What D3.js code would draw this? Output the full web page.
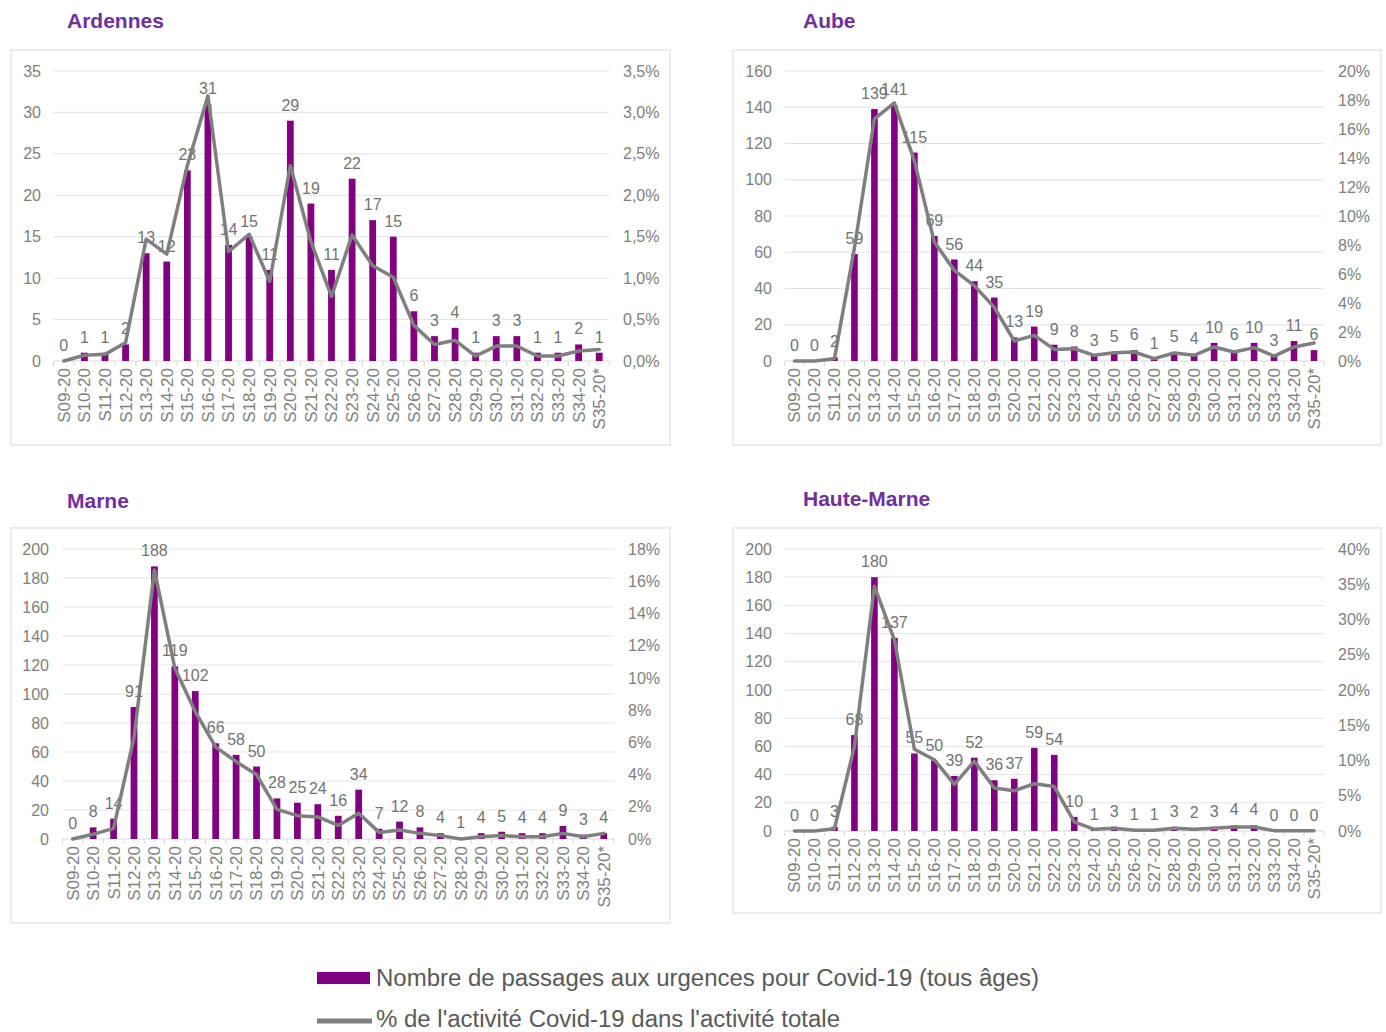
<!DOCTYPE html>
<meta charset="utf-8">
<style>
body { margin: 0; background: #fff; }
svg text { font-family: "Liberation Sans", Arial, sans-serif; }
.title { fill: #70309a; font-size: 21px; font-weight: bold; }
.tick text { fill: #808080; font-size: 16px; }
.xlab .tick text { font-size: 17px; }
.val { fill: #737373; font-size: 16px; text-anchor: middle; }
.legend { fill: #595959; font-size: 23px; }
</style>
<svg width="1386" height="1032"></svg>
<script src="https://cdn.jsdelivr.net/npm/d3@7"></script>
<script>

var weeks = ["S09-20","S10-20","S11-20","S12-20","S13-20","S14-20","S15-20","S16-20","S17-20",
  "S18-20","S19-20","S20-20","S21-20","S22-20","S23-20","S24-20","S25-20","S26-20","S27-20",
  "S28-20","S29-20","S30-20","S31-20","S32-20","S33-20","S34-20","S35-20*"];

// number of ER visits for Covid-19
var ardennesCount = [0,1,1,2,13,12,23,31,14,15,11,29,19,11,22,17,15,6,3,4,1,3,3,1,1,2,1];
var aubeCount = [0,0,2,59,139,141,115,69,56,44,35,13,19,9,8,3,5,6,1,5,4,10,6,10,3,11,6];
var marneCount = [0,8,14,91,188,119,102,66,58,50,28,25,24,16,34,7,12,8,4,1,4,5,4,4,9,3,4];
var hauteMarneCount = [0,0,3,68,180,137,55,50,39,52,36,37,59,54,10,1,3,1,1,3,2,3,4,4,0,0,0];

// % of Covid-19 activity in total activity
var ardennesPct = [0,0.07,0.08,0.22,1.47,1.29,2.36,3.2,1.32,1.53,0.96,2.36,1.44,0.78,1.52,1.15,1.01,0.43,0.2,0.25,0.06,0.18,0.18,0.06,0.06,0.12,0.14];
var aubePct = [0,0,0.16,7.8,16.7,17.8,13.8,8.2,6.25,5.2,3.7,1.38,1.77,0.8,0.85,0.39,0.57,0.62,0.16,0.55,0.39,0.97,0.62,0.92,0.34,0.97,1.24];
var marnePct = [0,0.29,0.66,6.3,16.7,10.6,7.9,5.7,4.8,4.0,1.84,1.45,1.37,0.84,1.6,0.41,0.56,0.35,0.21,0,0.14,0.21,0.14,0.14,0.35,0.14,0.35];
var hauteMarnePct = [0,0,0.33,12,34.7,27.1,11.6,10.1,6.6,9.9,6.1,5.7,6.7,6.3,1.3,0.24,0.38,0.1,0.1,0.38,0.24,0.38,0.57,0.57,0.05,0.05,0.05];

// axis ticks
var ardennesLeftTicks = [0,5,10,15,20,25,30,35];
var ardennesRightTicks = [0,0.5,1,1.5,2,2.5,3,3.5];
var aubeLeftTicks = [0,20,40,60,80,100,120,140,160];
var aubeRightTicks = [0,2,4,6,8,10,12,14,16,18,20];
var marneLeftTicks = [0,20,40,60,80,100,120,140,160,180,200];
var marneRightTicks = [0,2,4,6,8,10,12,14,16,18];
var hauteMarneLeftTicks = [0,20,40,60,80,100,120,140,160,180,200];
var hauteMarneRightTicks = [0,5,10,15,20,25,30,35,40];

var legendLabels = ["Nombre de passages aux urgences pour Covid-19 (tous âges)",
  "% de l'activité Covid-19 dans l'activité totale"];

var fr = d3.formatLocale({decimal: ",", thousands: " ", grouping: [3], currency: ["", "€"]});
var pct1 = function(d) { return fr.format(".1f")(d) + "%"; };
var pct0 = function(d) { return d + "%"; };

var panels = [
  {name: "Ardennes", count: ardennesCount, pct: ardennesPct, lt: ardennesLeftTicks, rt: ardennesRightTicks, rf: pct1,
   box: [11, 50, 659, 395], title: [67, 28], xr: [53.5, 609.5], yr: [361, 71], lx: 41, rx: 623},
  {name: "Aube", count: aubeCount, pct: aubePct, lt: aubeLeftTicks, rt: aubeRightTicks, rf: pct0,
   box: [733, 50, 648, 395], title: [803, 28], xr: [784.5, 1324], yr: [361, 71], lx: 772, rx: 1338},
  {name: "Marne", count: marneCount, pct: marnePct, lt: marneLeftTicks, rt: marneRightTicks, rf: pct0,
   box: [11, 528, 659, 395], title: [67, 508], xr: [62.5, 614], yr: [839, 549], lx: 49, rx: 628},
  {name: "Haute-Marne", count: hauteMarneCount, pct: hauteMarnePct, lt: hauteMarneLeftTicks, rt: hauteMarneRightTicks, rf: pct0,
   box: [733, 528, 648, 385], title: [803, 506], xr: [784.5, 1324], yr: [831, 549], lx: 772, rx: 1338}
];

var svg = d3.select("svg");

panels.forEach(function(p) {
  var g = svg.append("g");

  g.append("rect")
      .attr("x", p.box[0]).attr("y", p.box[1])
      .attr("width", p.box[2]).attr("height", p.box[3])
      .attr("fill", "none").attr("stroke", "#d9d9d9");

  g.append("text").attr("class", "title")
      .attr("x", p.title[0]).attr("y", p.title[1]).text(p.name);

  var x = d3.scaleBand().domain(weeks).range(p.xr);
  var y = d3.scaleLinear().domain([0, d3.max(p.lt)]).range(p.yr);
  var y2 = d3.scaleLinear().domain([0, d3.max(p.rt)]).range(p.yr);
  var bw = x.bandwidth();

  // gridlines
  g.append("g").selectAll("line")
    .data(p.lt.slice(1))
    .join("line")
      .attr("x1", p.xr[0]).attr("x2", p.xr[1])
      .attr("y1", function(d) { return y(d); })
      .attr("y2", function(d) { return y(d); })
      .attr("stroke", "#e3e3e3");

  // left axis
  var la = g.append("g")
      .attr("transform", "translate(" + p.lx + ",0)")
      .call(d3.axisLeft(y).tickValues(p.lt).tickSize(0).tickPadding(0));
  la.select(".domain").remove();
  la.attr("font-family", null).attr("font-size", null);

  // right axis
  var ra = g.append("g")
      .attr("transform", "translate(" + p.rx + ",0)")
      .call(d3.axisRight(y2).tickValues(p.rt).tickFormat(p.rf).tickSize(0).tickPadding(0));
  ra.select(".domain").remove();
  ra.attr("font-family", null).attr("font-size", null);

  // x axis line and boundary ticks
  var y0 = p.yr[0];
  g.append("line")
      .attr("x1", p.xr[0]).attr("x2", p.xr[1])
      .attr("y1", y0).attr("y2", y0)
      .attr("stroke", "#d9d9d9");
  g.append("g").selectAll("line")
    .data(weeks.concat(["end"]))
    .join("line")
      .attr("x1", function(d, i) { return p.xr[0] + i * bw; })
      .attr("x2", function(d, i) { return p.xr[0] + i * bw; })
      .attr("y1", y0).attr("y2", y0 + 5)
      .attr("stroke", "#d9d9d9");

  var xa = g.append("g")
      .attr("class", "xlab")
      .attr("transform", "translate(0," + y0 + ")")
      .call(d3.axisBottom(x).tickSize(0));
  xa.select(".domain").remove();
  xa.attr("font-family", null).attr("font-size", null);
  xa.selectAll("text")
      .attr("transform", "rotate(-90)")
      .attr("text-anchor", "end")
      .attr("x", -7).attr("y", 0).attr("dy", "0.35em");

  // bars
  g.append("g").selectAll("rect")
    .data(p.count)
    .join("rect")
      .attr("x", function(d, i) { return x(weeks[i]) + bw * 0.335; })
      .attr("width", bw * 0.33)
      .attr("y", function(d) { return y(d); })
      .attr("height", function(d) { return y0 - y(d); })
      .attr("fill", "#800080");

  // value labels
  g.append("g").selectAll("text")
    .data(p.count)
    .join("text")
      .attr("class", "val")
      .attr("x", function(d, i) { return x(weeks[i]) + bw / 2; })
      .attr("y", function(d) { return y(d) - 10; })
      .text(function(d) { return d; });

  // percent line
  var line = d3.line()
      .x(function(d, i) { return x(weeks[i]) + bw / 2; })
      .y(function(d) { return y2(d); });
  g.append("path")
      .datum(p.pct)
      .attr("d", line)
      .attr("fill", "none")
      .attr("stroke", "#7f7f7f")
      .attr("stroke-width", 3.5)
      .attr("stroke-linejoin", "round")
      .attr("stroke-linecap", "round");
});

// legend
var lg = svg.append("g");
lg.append("rect")
    .attr("x", 317).attr("y", 972).attr("width", 53).attr("height", 12)
    .attr("fill", "#800080");
lg.append("text").attr("class", "legend")
    .attr("x", 376).attr("y", 986)
    .attr("textLength", 663).attr("lengthAdjust", "spacingAndGlyphs")
    .text(legendLabels[0]);
lg.append("line")
    .attr("x1", 317).attr("x2", 372).attr("y1", 1021).attr("y2", 1021)
    .attr("stroke", "#7f7f7f").attr("stroke-width", 5);
lg.append("text").attr("class", "legend")
    .attr("x", 376).attr("y", 1027)
    .attr("textLength", 464).attr("lengthAdjust", "spacingAndGlyphs")
    .text(legendLabels[1]);

</script>
